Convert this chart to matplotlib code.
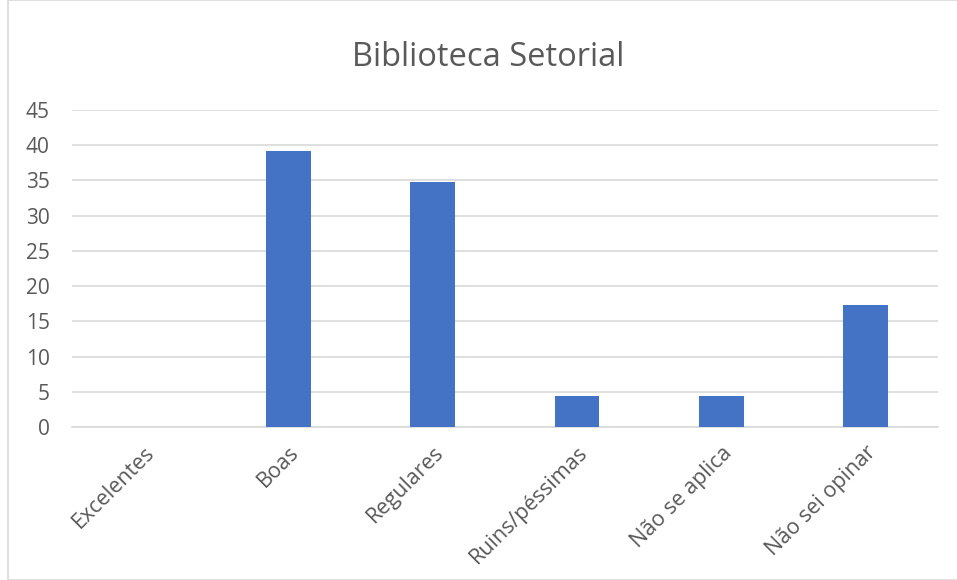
import matplotlib.pyplot as plt
from matplotlib.patches import Rectangle

categorias = ["Excelentes", "Boas", "Regulares", "Ruins/péssimas", "Não se aplica", "Não sei opinar"]
valores = [0, 39.13, 34.78, 4.35, 4.35, 17.39]
yticks = [0, 5, 10, 15, 20, 25, 30, 35, 40, 45]

plt.rcParams["font.family"] = ["Open Sans", "DejaVu Sans"]

fig = plt.figure(figsize=(9.57, 5.8), dpi=100)
ax = fig.add_axes([0.0752, 0.2638, 0.9048, 0.5465])

# moldura cinza do gráfico
fig.patches.append(Rectangle((8 / 957, 0), 1, 1, transform=fig.transFigure,
                             fill=False, edgecolor="#d9d9d9", linewidth=1.2))

x = range(len(categorias))
ax.bar(x, valores, width=0.31, color="#4472c4", zorder=3)

ax.set_xlim(-0.5, len(categorias) - 0.5)
ax.set_ylim(0, 45)
ax.set_yticks(yticks)
ax.set_xticks(list(x))
ax.set_xticklabels(categorias, rotation=45, ha="right", rotation_mode="anchor",
                   fontsize=15.5, color="#595959")
ax.tick_params(axis="y", labelsize=15, labelcolor="#595959", length=0, pad=16)
ax.tick_params(axis="x", length=0, pad=11)

ax.grid(axis="y", color="#d9d9d9", linewidth=1.2, zorder=0)
for s in ["top", "right", "left"]:
    ax.spines[s].set_visible(False)
ax.spines["bottom"].set_color("#d9d9d9")
ax.spines["bottom"].set_linewidth(1.2)

fig.text(0.51, 0.9, "Biblioteca Setorial", ha="center", va="center",
         fontsize=23.5, color="#595959")

fig.savefig("out.png", dpi=100)
